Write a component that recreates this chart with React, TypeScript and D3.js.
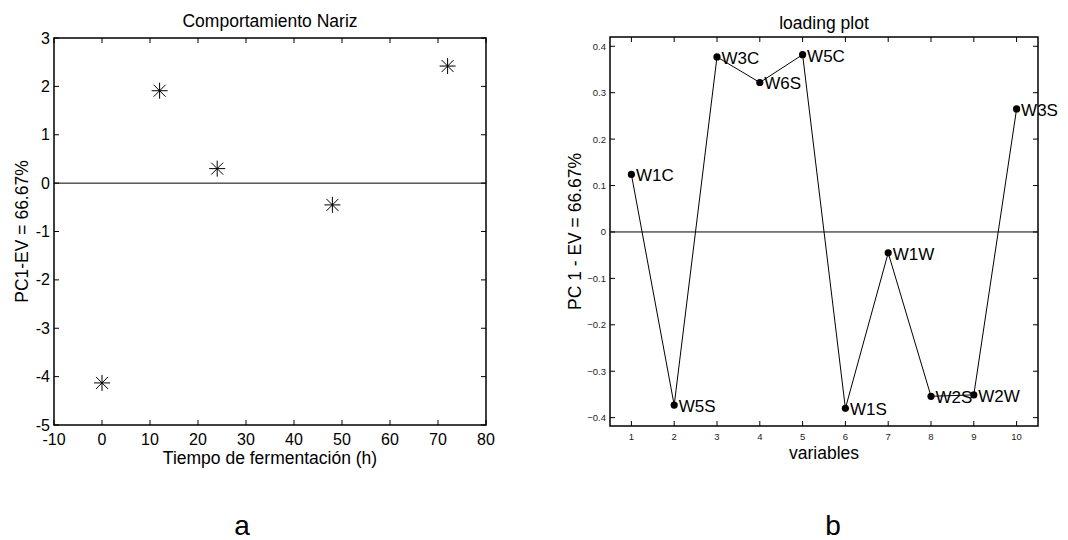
import React from 'react';
import * as d3 from 'd3';

const W = 1068;
const H = 540;

// panel a: PC1 score vs fermentation time
const timeHours = [0, 12, 24, 48, 72];
const pc1Scores = [-4.13, 1.91, 0.3, -0.45, 2.42];
const xTicksA = [-10, 0, 10, 20, 30, 40, 50, 60, 70, 80];
const yTicksA = [-5, -4, -3, -2, -1, 0, 1, 2, 3];

// panel b: loadings
const sensors = ['W1C', 'W5S', 'W3C', 'W6S', 'W5C', 'W1S', 'W1W', 'W2S', 'W2W', 'W3S'];
const loadings = [0.124, -0.373, 0.377, 0.322, 0.382, -0.38, -0.045, -0.354, -0.351, 0.265];
const xTicksB = [1, 2, 3, 4, 5, 6, 7, 8, 9, 10];
const yTicksB = [-0.4, -0.3, -0.2, -0.1, 0, 0.1, 0.2, 0.3, 0.4];

const FONT = 'Liberation Sans, Arial, sans-serif';
const TICK = 5;

const boxA = { left: 54, right: 486, top: 38, bottom: 425 };
const boxB = { left: 610, right: 1038, top: 37, bottom: 426 };

const Star = ({ x, y }: { x: number; y: number }) => {
  const r = 8;
  const d = 6;
  return (
    <g stroke="#000" strokeWidth={1}>
      <line x1={x - r} x2={x + r} y1={y} y2={y} />
      <line x1={x} x2={x} y1={y - r} y2={y + r} />
      <line x1={x - d} x2={x + d} y1={y - d} y2={y + d} />
      <line x1={x - d} x2={x + d} y1={y + d} y2={y - d} />
    </g>
  );
};

const Frame = ({ box, xs, ys, xTicks, yTicks }: any) => (
  <g stroke="#000" strokeWidth={1}>
    {xTicks.map((t: number) => (
      <g key={'x' + t}>
        <line x1={xs(t)} x2={xs(t)} y1={box.bottom} y2={box.bottom - TICK} />
        <line x1={xs(t)} x2={xs(t)} y1={box.top} y2={box.top + TICK} />
      </g>
    ))}
    {yTicks.map((t: number) => (
      <g key={'y' + t}>
        <line x1={box.left} x2={box.left + TICK} y1={ys(t)} y2={ys(t)} />
        <line x1={box.right} x2={box.right - TICK} y1={ys(t)} y2={ys(t)} />
      </g>
    ))}
    <rect
      x={box.left}
      y={box.top}
      width={box.right - box.left}
      height={box.bottom - box.top}
      fill="none"
      strokeWidth={1.5}
    />
  </g>
);

export default function App() {
  const xA = d3.scaleLinear().domain([-10, 80]).range([boxA.left, boxA.right]);
  const yA = d3.scaleLinear().domain([-5, 3]).range([boxA.bottom, boxA.top]);

  const xB = d3.scaleLinear().domain([0.5, 10.5]).range([boxB.left, boxB.right]);
  const yB = d3.scaleLinear().domain([-0.418, 0.42]).range([boxB.bottom, boxB.top]);

  const path = d3
    .line<number>()
    .x((d, i) => xB(i + 1))
    .y((d) => yB(d))(loadings);

  const fmtB = (v: number) => (Math.abs(v) < 1e-9 ? '0' : d3.format('.1f')(v));

  return (
    <svg
      width={W}
      height={H}
      style={{ position: 'absolute', left: 0, top: 0, background: '#fff' }}
      fontFamily={FONT}
    >
      <rect width={W} height={H} fill="#fff" />

      {/* ---- panel a ---- */}
      <line x1={boxA.left} x2={boxA.right} y1={yA(0)} y2={yA(0)} stroke="#000" strokeWidth={1} />
      {timeHours.map((t, i) => (
        <Star key={t} x={xA(t)} y={yA(pc1Scores[i])} />
      ))}
      <Frame box={boxA} xs={xA} ys={yA} xTicks={xTicksA} yTicks={yTicksA} />
      {xTicksA.map((t) => (
        <text key={t} x={xA(t)} y={boxA.bottom + 14} fontSize={16} textAnchor="middle" dominantBaseline="central">
          {t}
        </text>
      ))}
      {yTicksA.map((t) => (
        <text key={t} x={boxA.left - 4} y={yA(t)} fontSize={16} textAnchor="end" dominantBaseline="central">
          {t}
        </text>
      ))}
      <text x={(boxA.left + boxA.right) / 2} y={21} fontSize={17.5} textAnchor="middle" dominantBaseline="central">
        Comportamiento Nariz
      </text>
      <text x={(boxA.left + boxA.right) / 2} y={458} fontSize={17.5} textAnchor="middle" dominantBaseline="central">
        Tiempo de fermentación (h)
      </text>
      <text
        transform={`translate(22,${(boxA.top + boxA.bottom) / 2}) rotate(-90)`}
        fontSize={17.5}
        textAnchor="middle"
        dominantBaseline="central"
      >
        PC1-EV = 66.67%
      </text>
      <text x={242} y={535} fontSize={28} textAnchor="middle">
        a
      </text>

      {/* ---- panel b ---- */}
      <line x1={boxB.left} x2={boxB.right} y1={yB(0)} y2={yB(0)} stroke="#000" strokeWidth={1} />
      <path d={path ?? ''} fill="none" stroke="#000" strokeWidth={1} />
      {loadings.map((v, i) => (
        <g key={sensors[i]}>
          <circle cx={xB(i + 1)} cy={yB(v)} r={3.6} fill="#000" />
          <text x={xB(i + 1) + 4.5} y={yB(v) + 1.5} fontSize={17} dominantBaseline="central">
            {sensors[i]}
          </text>
        </g>
      ))}
      <Frame box={boxB} xs={xB} ys={yB} xTicks={xTicksB} yTicks={yTicksB} />
      {xTicksB.map((t) => (
        <text key={t} x={xB(t)} y={boxB.bottom + 10} fontSize={9.5} fill="#222" textAnchor="middle" dominantBaseline="central">
          {t}
        </text>
      ))}
      {yTicksB.map((t) => (
        <text key={t} x={boxB.left - 4} y={yB(t)} fontSize={9.5} fill="#222" textAnchor="end" dominantBaseline="central">
          {fmtB(t)}
        </text>
      ))}
      <text x={(boxB.left + boxB.right) / 2} y={23} fontSize={17.5} textAnchor="middle" dominantBaseline="central">
        loading plot
      </text>
      <text x={(boxB.left + boxB.right) / 2} y={453} fontSize={17.5} textAnchor="middle" dominantBaseline="central">
        variables
      </text>
      <text
        transform={`translate(575,${(boxB.top + boxB.bottom) / 2}) rotate(-90)`}
        fontSize={17.5}
        textAnchor="middle"
        dominantBaseline="central"
      >
        PC 1 - EV = 66.67%
      </text>
      <text x={833} y={535} fontSize={28} textAnchor="middle">
        b
      </text>
    </svg>
  );
}
